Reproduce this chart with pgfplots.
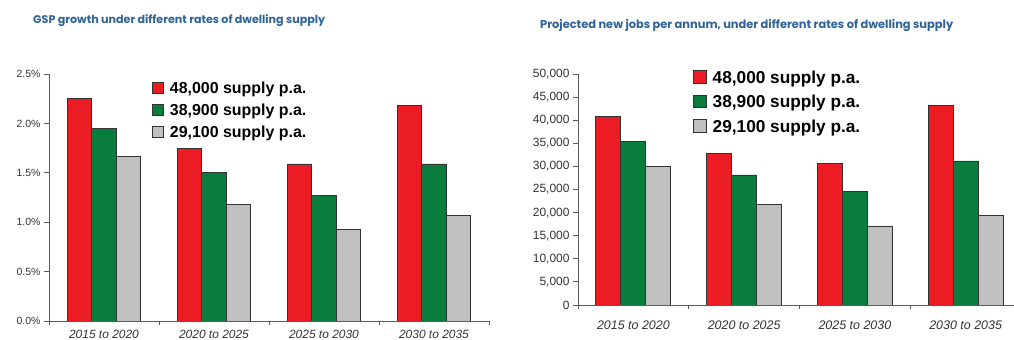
\documentclass[border=0pt]{standalone}
\usepackage{pgfplots}
\pgfplotsset{compat=1.18}
\usepackage{fontspec}
\setmainfont{Liberation Sans}
\newfontfamily\titlefont{Poppins}
\definecolor{cred}{HTML}{EC1C24}
\definecolor{cgreen}{HTML}{0A7D3E}
\definecolor{cgray}{HTML}{C0C0C0}
\definecolor{ctitle}{HTML}{2F6395}
\definecolor{caxis}{HTML}{5A5A5A}
\definecolor{ctext}{HTML}{333333}
\pgfplotsset{
  mybars/.style={
    scale only axis,
    ybar=0pt,
    axis x line*=bottom, axis y line*=left,
    axis line style={draw=caxis,line width=0.9bp,-},
    xmin=-0.5, xmax=3.5, ymin=0,
    xtick={0,1,2,3},
    xticklabels={2015 to 2020,2020 to 2025,2025 to 2030,2030 to 2035},
    minor xtick={-0.5,0.5,1.5,2.5,3.5},
    major x tick style={draw=none},
    minor x tick style={draw=caxis,line width=0.9bp},
    major y tick style={draw=caxis,line width=0.9bp},
    tick align=outside,
    major tick length=5bp, minor tick length=4bp,
    tick label style={color=ctext},
    every axis plot/.append style={draw=black!80,line width=0.8bp},
    legend cell align=left,
  },
}
\begin{document}
\begin{tikzpicture}
% left chart
\begin{axis}[mybars,
  at={(49bp,19bp)}, anchor=south west,
  width=440bp, height=247bp,
  ymax=2.5, bar width=24.5bp,
  ytick={0,0.5,1,1.5,2,2.5},
  yticklabels={0.0\%,0.5\%,1.0\%,1.5\%,2.0\%,2.5\%},
  yticklabel style={font=\fontsize{10.5}{12}\selectfont},
  xticklabel style={font=\itshape\fontsize{12}{14}\selectfont, yshift=-1bp},
  legend image code/.code={\draw[#1] (0bp,-4bp) rectangle (11bp,7bp);},
  legend style={draw=none, fill=none, at={(0.234,0.975)}, anchor=north west,
    inner sep=0pt, row sep=3.3bp, column sep=4bp,
    font=\bfseries\fontsize{16}{18}\selectfont,
    nodes={inner sep=2bp, text height=11.5bp, text depth=3bp}},
]
\addplot[fill=cred] coordinates {(0,2.25) (1,1.75) (2,1.59) (3,2.18)};
\addplot[fill=cgreen] coordinates {(0,1.95) (1,1.50) (2,1.27) (3,1.59)};
\addplot[fill=cgray] coordinates {(0,1.67) (1,1.18) (2,0.93) (3,1.07)};
\legend{{48,000 supply p.a.},{38,900 supply p.a.},{29,100 supply p.a.}}
\end{axis}
% right chart
\begin{axis}[mybars,
  at={(578bp,35bp)}, anchor=south west,
  width=443bp, height=231bp,
  ymax=50000, bar width=25bp,
  ytick={0,5000,10000,15000,20000,25000,30000,35000,40000,45000,50000},
  scaled y ticks=false,
  /pgf/number format/.cd, 1000 sep={,}, assume math mode=true, /pgfplots/.cd,
  yticklabel style={font=\fontsize{12}{14}\selectfont},
  xticklabel style={font=\itshape\fontsize{12.5}{14}\selectfont, yshift=-7bp},
  legend image code/.code={\draw[#1] (0bp,-4.5bp) rectangle (13bp,8bp);},
  legend style={draw=none, fill=none, at={(0.259,1.024)}, anchor=north west,
    inner sep=0pt, row sep=4.8bp, column sep=4bp,
    font=\bfseries\fontsize{17.3}{19}\selectfont,
    nodes={inner sep=2bp, text height=12.4bp, text depth=3.3bp}},
]
\addplot[fill=cred] coordinates {(0,40900) (1,32760) (2,30660) (3,43220)};
\addplot[fill=cgreen] coordinates {(0,35350) (1,28140) (2,24530) (3,31170)};
\addplot[fill=cgray] coordinates {(0,30000) (1,21860) (2,17100) (3,19480)};
\legend{{48,000 supply p.a.},{38,900 supply p.a.},{29,100 supply p.a.}}
\end{axis}
\node[anchor=base west, inner sep=0pt, color=ctitle] at (33bp,316bp)
  {\resizebox{292bp}{!}{\titlefont\bfseries GSP growth under different rates of dwelling supply}};
\node[anchor=base west, inner sep=0pt, color=ctitle] at (540bp,311bp)
  {\resizebox{413bp}{!}{\titlefont\bfseries Projected new jobs per annum, under different rates of dwelling supply}};
\pgfresetboundingbox
\useasboundingbox (0,0) rectangle (1014bp,340bp);
\end{tikzpicture}
\end{document}
